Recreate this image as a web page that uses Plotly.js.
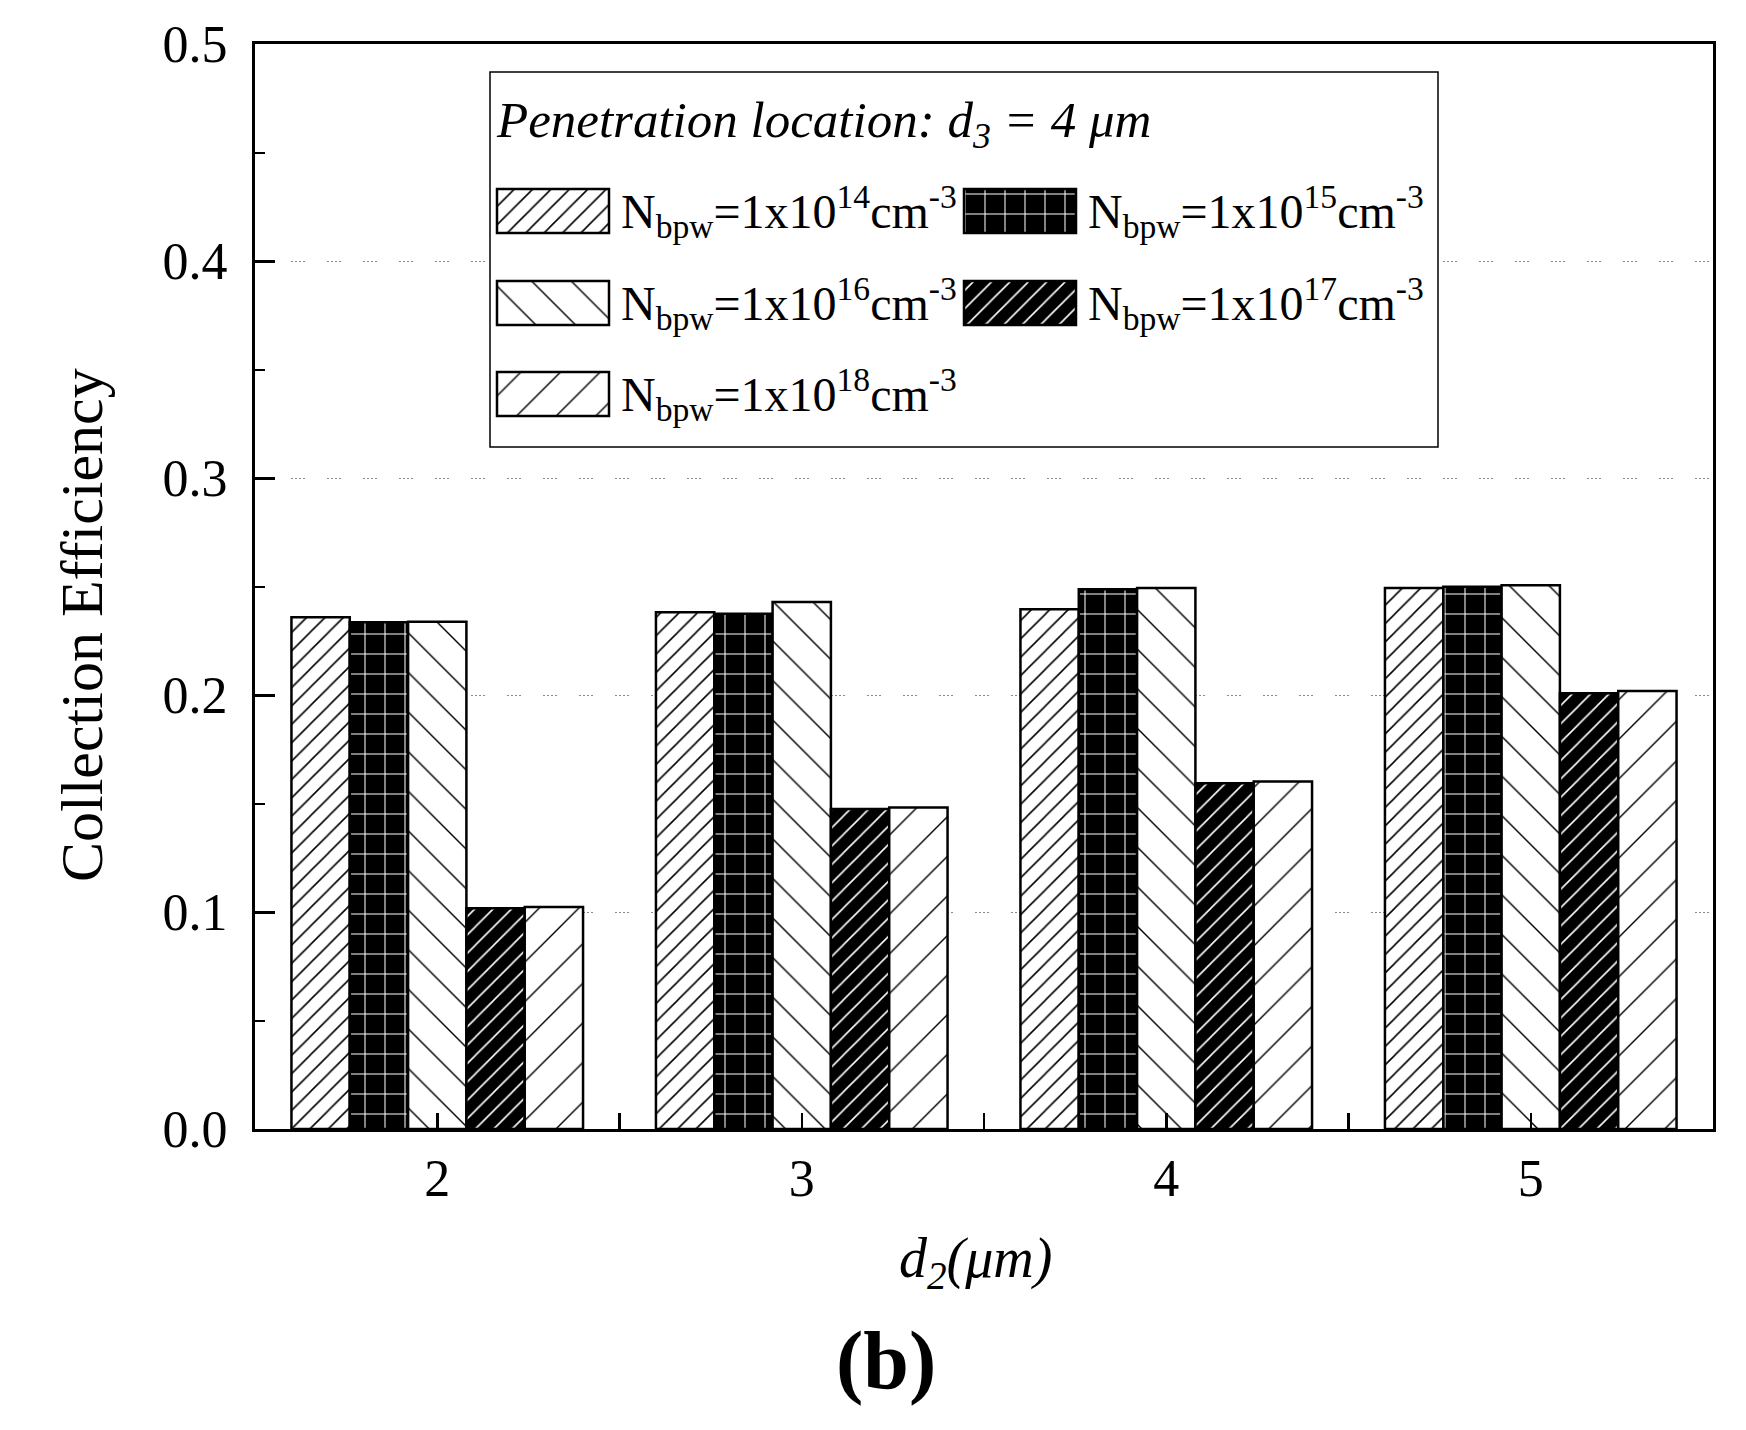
<!DOCTYPE html>
<html>
<head>
<meta charset="utf-8">
<script src="https://cdn.plot.ly/plotly-3.0.1.min.js"></script>
<style>
  html, body { margin: 0; padding: 0; background: #fff; }
  #chart { width: 1746px; height: 1430px; }
</style>
</head>
<body>
<div id="chart"></div>
<script>
// ─── Data ───
const d2 = [2, 3, 4, 5];
const doping = ["14", "15", "16", "17", "18"];
const eff14 = [0.2358, 0.2381, 0.2395, 0.2493];
const eff15 = [0.2335, 0.2375, 0.2487, 0.2499];
const eff16 = [0.2337, 0.2429, 0.2493, 0.2506];
const eff17 = [0.1017, 0.1475, 0.1593, 0.2008];
const eff18 = [0.1023, 0.1482, 0.1601, 0.2018];
const series = [eff14, eff15, eff16, eff17, eff18];

// ─── Look ───
const FONT = "Liberation Serif, 'Times New Roman', serif";
const patterns = [
  { shape: "/", fgcolor: "#000", bgcolor: "#fff", size: 13, solidity: 0.12 },
  { shape: "+", fgcolor: "#fff", bgcolor: "#000", size: 20, solidity: 0.1 },
  { shape: "\\", fgcolor: "#000", bgcolor: "#fff", size: 28, solidity: 0.05 },
  { shape: "/", fgcolor: "#fff", bgcolor: "#000", size: 13, solidity: 0.12 },
  { shape: "/", fgcolor: "#000", bgcolor: "#fff", size: 28, solidity: 0.05 },
];

// plot area in page pixels
const L = 255, R = 1713, T = 44, B = 1129;
const px = (x) => (x - L) / (R - L);
const py = (y) => (B - y) / (B - T);

const label = (p) =>
  "N<sub>bpw</sub>=1x10<sup>" + p + "</sup>cm<sup>-3</sup>";

// ─── Main bars ───
const traces = series.map((ys, i) => ({
  x: d2,
  y: ys,
  type: "bar",
  name: label(doping[i]),
  marker: {
    color: patterns[i].bgcolor,
    line: { color: "#000", width: 2.5 },
    pattern: Object.assign({ fillmode: "replace" }, patterns[i]),
  },
  showlegend: false,
  hoverinfo: "x+y",
}));

// ─── Legend (drawn on a hidden pixel axis) ───
const box = { x0: 490, x1: 1438, y0: 72, y1: 447 };
traces.push({
  type: "bar", orientation: "h", xaxis: "x2", yaxis: "y2",
  y: [(box.y0 + box.y1) / 2], x: [box.x1 - box.x0], base: [box.x0],
  width: [box.y1 - box.y0], offset: -(box.y1 - box.y0) / 2,
  marker: { color: "#fff", line: { color: "#000", width: 1.5 } },
  showlegend: false, hoverinfo: "skip",
});

const rowY = [211, 211, 303, 303, 394];
const colX = [497, 964, 497, 964, 497];
const swW = 112, swH = 44;
const annotations = [];
for (let i = 0; i < 5; i++) {
  traces.push({
    type: "bar", orientation: "h", xaxis: "x2", yaxis: "y2",
    y: [rowY[i]], x: [swW], base: [colX[i]],
    width: [swH], offset: -swH / 2,
    marker: {
      color: patterns[i].bgcolor,
      line: { color: "#000", width: 2.5 },
      pattern: Object.assign({ fillmode: "replace" }, patterns[i]),
    },
    showlegend: false, hoverinfo: "skip",
  });
  annotations.push({
    xref: "x2", yref: "y2", x: colX[i] + swW + 10, y: rowY[i],
    xanchor: "left", yanchor: "middle", showarrow: false,
    text: label(doping[i]),
    font: { family: FONT, size: 48, color: "#000" },
  });
}
annotations.push({
  xref: "x2", yref: "y2", x: 494, y: 124,
  xanchor: "left", yanchor: "middle", showarrow: false,
  text: "<i>Penetration location: d<sub>3</sub> = 4 \u03bcm</i>",
  font: { family: FONT, size: 51, color: "#000" },
});

// ─── Axis titles and panel tag ───
annotations.push({
  xref: "paper", yref: "paper", x: px(82), y: py(625),
  xanchor: "center", yanchor: "middle",
  textangle: -90, showarrow: false,
  text: "Collection Efficiency",
  font: { family: FONT, size: 60, color: "#000" },
});
annotations.push({
  xref: "paper", yref: "paper", x: px(975), y: py(1262),
  xanchor: "center", yanchor: "middle",
  showarrow: false,
  text: "<i>d<sub>2</sub>(\u03bcm)</i>",
  font: { family: FONT, size: 56, color: "#000" },
});
annotations.push({
  xref: "paper", yref: "paper", x: px(886), y: py(1360),
  xanchor: "center", yanchor: "middle",
  showarrow: false,
  text: "<b>(b)</b>",
  font: { family: FONT, size: 82, color: "#000" },
});

const layout = {
  width: 1746,
  height: 1430,
  margin: { l: L, r: 1746 - R, t: T, b: 1430 - B },
  paper_bgcolor: "#fff",
  plot_bgcolor: "#fff",
  font: { family: FONT, size: 50, color: "#000" },
  barmode: "group",
  bargap: 0.2,
  bargroupgap: 0,
  showlegend: false,
  xaxis: {
    range: [1.5, 5.5],
    tickvals: d2,
    ticktext: d2.map(String),
    ticks: "inside",
    ticklen: 16,
    tickwidth: 2.5,
    tickcolor: "#000",
    minor: { dtick: 0.5, tick0: 1.5, ticks: "inside", ticklen: 16, tickwidth: 2.5, tickcolor: "#000" },
    showline: true,
    linewidth: 3,
    linecolor: "#000",
    mirror: true,
    showgrid: false,
    zeroline: false,
    ticklabelstandoff: 2,
    tickfont: { family: FONT, size: 52 },
  },
  yaxis: {
    range: [0, 0.5],
    dtick: 0.1,
    tick0: 0,
    tickformat: ".1f",
    ticks: "inside",
    ticklen: 20,
    tickwidth: 3,
    tickcolor: "#000",
    minor: { dtick: 0.05, ticks: "inside", ticklen: 10, tickwidth: 2, tickcolor: "#000", showgrid: false },
    showline: true,
    linewidth: 3,
    linecolor: "#000",
    mirror: true,
    showgrid: true,
    gridcolor: "#8a8a8a",
    gridwidth: 1,
    griddash: "2px,2px,2px,2px,2px,2px,2px,22px",
    zeroline: false,
    ticklabelstandoff: 14,
    tickfont: { family: FONT, size: 52 },
  },
  xaxis2: { overlaying: "x", anchor: "y2", range: [L, R], visible: false, fixedrange: true },
  yaxis2: { overlaying: "y", anchor: "x2", range: [B, T], visible: false, fixedrange: true },
  annotations: annotations,
};

Plotly.newPlot("chart", traces, layout, { displayModeBar: false, staticPlot: true });
</script>
</body>
</html>
